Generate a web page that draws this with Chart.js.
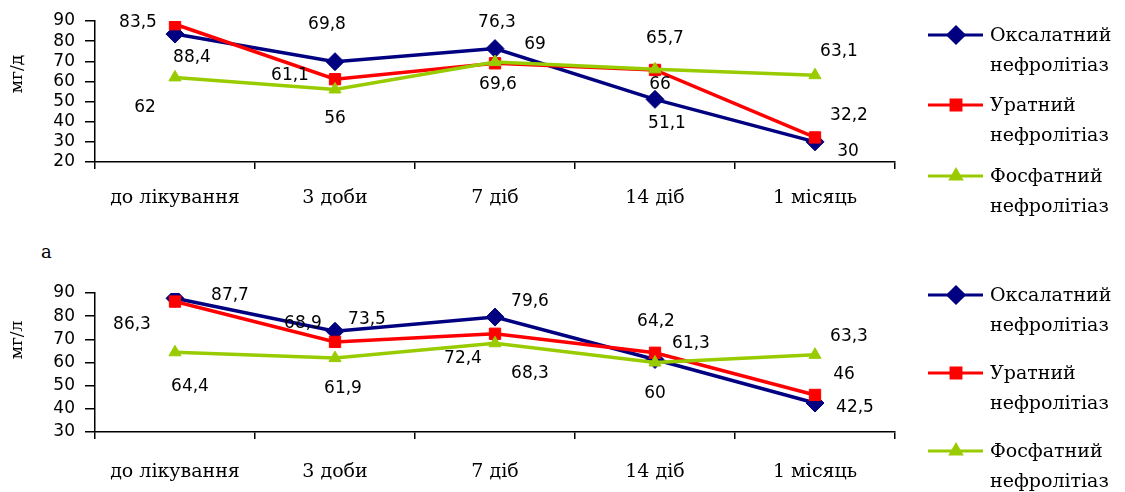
<!DOCTYPE html>
<html>
<head>
<meta charset="utf-8">
<script src="https://cdn.jsdelivr.net/npm/chart.js@4/dist/chart.umd.min.js"></script>
<style>
  html, body { margin: 0; padding: 0; background: #fff; }
  body { width: 1125px; height: 492px; position: relative; overflow: hidden; }
  canvas { position: absolute; left: 0; }
  #c1 { top: 0; }
  #c2 { top: 230px; }
  #lblA { position: absolute; left: 41px; top: 241px; font-family: "DejaVu Serif", serif; font-size: 18px; color: #000; }
</style>
</head>
<body>
<canvas id="c1" width="1125" height="230"></canvas>
<div id="lblA">а</div>
<canvas id="c2" width="1125" height="262"></canvas>
<script>
// ---- data ----
const categories = ['до лікування', '3 доби', '7 діб', '14 діб', '1 місяць'];
const seriesNames = ['Оксалатний нефролітіаз', 'Уратний нефролітіаз', 'Фосфатний нефролітіаз'];
const oxalateA   = [83.5, 69.8, 76.3, 51.1, 30];
const urateA     = [88.4, 61.1, 69, 65.7, 32.2];
const phosphateA = [62, 56, 69.6, 66, 63.1];
const oxalateB   = [87.7, 73.5, 79.6, 61.3, 42.5];
const urateB     = [86.3, 68.9, 72.4, 64.2, 46];
const phosphateB = [64.4, 61.9, 68.3, 60, 63.3];
const yRangeA = [20, 90];
const yRangeB = [30, 90];
const yStep = 10;
const unitA = 'мг/д';
const unitB = 'мг/л';

// ---- styles / layout ----
const colors = ['#000080', '#FF0000', '#99CC00'];
const pointStyles = ['rectRot', 'rect', 'triangle'];
const pointRadii = [9, 8, 7];
const legendRadii = [8, 7, 6];
const drawOrder = [3, 2, 1];

// label offsets (pixels relative to point) per series/category
const labelOffsetsA = [
  [[-37, -12], [-8, -37], [2, -26], [12, 24], [33, 10]],
  [[17, 33], [-45, -4], [40, -19], [10, -31], [34, -22]],
  [[-30, 30], [0, 29], [3, 22], [5, 15], [24, -24]]
];
const labelOffsetsB = [
  [[55, -3], [32, -12], [35, -16], [36, -16], [40, 5]],
  [[-43, 23], [-32, -18], [-32, 25], [1, -31], [29, -20]],
  [[15, 34], [8, 30], [35, 30], [0, 31], [34, -18]]
];
const legendRowsA = [35, 105, 176];
const legendRowsB = [65, 143, 221];

const sansFont = '"DejaVu Sans", sans-serif';
const serifFont = '"DejaVu Serif", serif';

const pointLabelPlugin = {
  id: 'pointLabels',
  afterDatasetsDraw(chart, args, opts) {
    const ctx = chart.ctx;
    ctx.save();
    ctx.font = '17px ' + sansFont;
    ctx.fillStyle = '#000';
    ctx.textAlign = 'center';
    ctx.textBaseline = 'middle';
    chart.data.datasets.forEach((ds, i) => {
      const meta = chart.getDatasetMeta(i);
      meta.data.forEach((pt, j) => {
        const off = opts.offsets[i][j];
        const txt = String(ds.data[j]).replace('.', ',');
        ctx.fillText(txt, pt.x + off[0], pt.y + off[1]);
      });
    });
    ctx.restore();
  }
};

const sideLegendPlugin = {
  id: 'sideLegend',
  afterDraw(chart, args, opts) {
    const ctx = chart.ctx;
    ctx.save();
    chart.data.datasets.forEach((ds, i) => {
      const y = opts.rows[i];
      ctx.strokeStyle = ds.borderColor;
      ctx.lineWidth = 3;
      ctx.beginPath();
      ctx.moveTo(928, y);
      ctx.lineTo(983, y);
      ctx.stroke();
      ctx.fillStyle = ds.borderColor;
      Chart.helpers.drawPoint(ctx, {pointStyle: ds.pointStyle, radius: legendRadii[i], rotation: 0, borderWidth: 1}, 956, y);
      ctx.fillStyle = '#000';
      ctx.font = '19px ' + serifFont;
      ctx.textAlign = 'left';
      ctx.textBaseline = 'middle';
      const parts = ds.label.split(' ');
      ctx.fillText(parts[0], 990, y + 1);
      ctx.fillText(parts[1], 990, y + 31);
    });
    // y-axis unit title
    ctx.translate(18, opts.titleY);
    ctx.rotate(-Math.PI / 2);
    ctx.fillStyle = '#000';
    ctx.font = '17px ' + serifFont;
    ctx.textAlign = 'center';
    ctx.textBaseline = 'middle';
    ctx.fillText(opts.unit, 0, 0);
    ctx.restore();
  }
};

function makeChart(id, series, yRange, offsets, rows, unit, titleY, pad, xPad) {
  return new Chart(document.getElementById(id), {
    type: 'line',
    data: {
      labels: categories,
      datasets: series.map((d, i) => ({
        label: seriesNames[i],
        data: d,
        borderColor: colors[i],
        backgroundColor: colors[i],
        pointBackgroundColor: colors[i],
        pointBorderColor: colors[i],
        pointStyle: pointStyles[i],
        pointRadius: pointRadii[i],
        pointBorderWidth: 1,
        borderWidth: 3.5,
        tension: 0,
        order: drawOrder[i]
      }))
    },
    options: {
      responsive: false,
      animation: false,
      layout: { padding: { left: 0, right: 230, top: pad.top, bottom: pad.bottom } },
      plugins: {
        legend: { display: false },
        tooltip: { enabled: false },
        pointLabels: { offsets: offsets },
        sideLegend: { rows: rows, unit: unit, titleY: titleY }
      },
      scales: {
        x: {
          type: 'category',
          offset: true,
          afterFit(s) { s.height = 50; },
          grid: { offset: true, drawOnChartArea: false, drawTicks: true, tickLength: 7, color: '#000', lineWidth: 1.5 },
          border: { display: true, color: '#000', width: 1.5 },
          ticks: { color: '#000', font: { family: serifFont, size: 19 }, padding: xPad, maxRotation: 0, autoSkip: false }
        },
        y: {
          min: yRange[0],
          max: yRange[1],
          afterFit(s) { s.width = 95; },
          grid: { drawOnChartArea: false, drawTicks: true, tickLength: 10, color: '#000', lineWidth: 1.5 },
          border: { display: true, color: '#000', width: 1.5 },
          ticks: { stepSize: yStep, autoSkip: false, color: '#000', font: { family: sansFont, size: 17 }, padding: 10 }
        }
      }
    },
    plugins: [pointLabelPlugin, sideLegendPlugin]
  });
}

makeChart('c1', [oxalateA, urateA, phosphateA], yRangeA, labelOffsetsA, legendRowsA, unitA, 74, { top: 21, bottom: 18 }, 18);
makeChart('c2', [oxalateB, urateB, phosphateB], yRangeB, labelOffsetsB, legendRowsB, unitB, 110, { top: 63, bottom: 10 }, 22);
</script>
</body>
</html>
